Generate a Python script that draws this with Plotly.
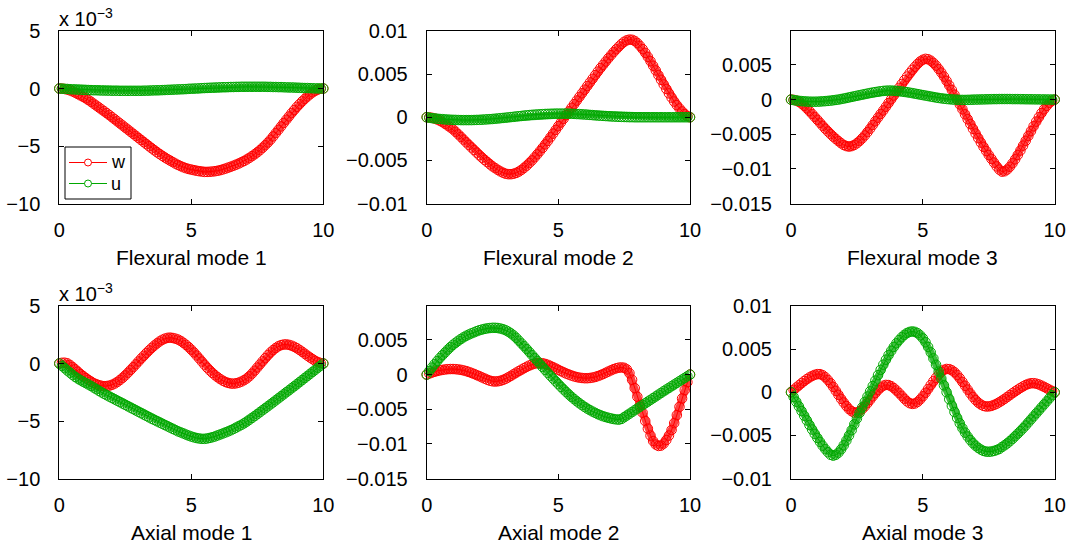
import plotly.graph_objects as go

# sampling positions along the beam (x from 0 to 10, step 0.1)
x_positions = [round(i * 0.1, 1) for i in range(101)]

# ---- Flexural mode 1 (values in units of 1e-3) ----
flex1_w = [0,
    -0.01, -0.04, -0.09, -0.16, -0.25,  -0.36, -0.48, -0.6, -0.72, -0.85,
    -1.0, -1.15, -1.32, -1.48, -1.65,   -1.82, -1.98, -2.15, -2.32, -2.5,
    -2.68, -2.86, -3.04, -3.22, -3.4,   -3.58, -3.76, -3.94, -4.12, -4.3,
    -4.48, -4.66, -4.84, -5.02, -5.2,   -5.37, -5.54, -5.7, -5.85, -6.0,
    -6.14, -6.27, -6.4, -6.53, -6.65,   -6.75, -6.85, -6.93, -7.0, -7.05,
    -7.1, -7.15, -7.19, -7.22, -7.25,   -7.25, -7.24, -7.22, -7.19, -7.15,
    -7.1, -7.03, -6.96, -6.88, -6.8,    -6.71, -6.62, -6.52, -6.41, -6.3,
    -6.17, -6.03, -5.88, -5.72, -5.55,  -5.36, -5.15, -4.93, -4.7, -4.45,
    -4.17, -3.88, -3.59, -3.3, -3.0,    -2.71, -2.43, -2.14, -1.87, -1.6,
    -1.36, -1.12, -0.9, -0.69, -0.5,    -0.33, -0.19, -0.09, -0.02, 0]
flex1_u = [0,
    -0.01, -0.03, -0.04, -0.06, -0.07,  -0.08, -0.09, -0.1, -0.11, -0.12,
    -0.13, -0.14, -0.15, -0.15, -0.16,  -0.17, -0.17, -0.18, -0.18, -0.19,
    -0.19, -0.19, -0.2, -0.2, -0.2,     -0.2, -0.2, -0.2, -0.2, -0.2,
    -0.2, -0.19, -0.19, -0.18, -0.17,   -0.16, -0.16, -0.15, -0.14, -0.13,
    -0.12, -0.11, -0.1, -0.09, -0.08,   -0.07, -0.06, -0.05, -0.03, -0.02,
    -0.01, 0.0, 0.01, 0.03, 0.04,       0.05, 0.06, 0.07, 0.08, 0.09,
    0.1, 0.11, 0.11, 0.12, 0.13,        0.13, 0.14, 0.14, 0.15, 0.15,
    0.15, 0.15, 0.15, 0.15, 0.15,       0.15, 0.15, 0.15, 0.14, 0.14,
    0.13, 0.13, 0.12, 0.12, 0.11,       0.1, 0.09, 0.09, 0.08, 0.07,
    0.06, 0.05, 0.04, 0.04, 0.03,       0.02, 0.01, 0.01, 0.0, 0]

# ---- Flexural mode 2 (units of 1e-3) ----
flex2_w = [0,
    -0.02, -0.07, -0.15, -0.26, -0.4,   -0.57, -0.76, -0.97, -1.18, -1.4,
    -1.69, -1.98, -2.28, -2.59, -2.9,   -3.2, -3.5, -3.8, -4.1, -4.4,
    -4.68, -4.95, -5.2, -5.45, -5.7,    -5.9, -6.1, -6.28, -6.43, -6.55,
    -6.6, -6.6, -6.55, -6.45, -6.3,     -6.1, -5.86, -5.6, -5.3, -5.0,
    -4.65, -4.3, -3.93, -3.55, -3.15,   -2.75, -2.33, -1.9, -1.47, -1.03,
    -0.6, -0.17, 0.25, 0.68, 1.1,       1.52, 1.94, 2.36, 2.78, 3.2,
    3.62, 4.04, 4.46, 4.88, 5.3,        5.7, 6.08, 6.46, 6.84, 7.2,
    7.55, 7.88, 8.2, 8.5, 8.75,         8.92, 9.0, 8.98, 8.85, 8.6,
    8.27, 7.9, 7.47, 7.0, 6.5,          5.97, 5.43, 4.88, 4.34, 3.8,
    3.28, 2.77, 2.28, 1.82, 1.4,        1.02, 0.68, 0.38, 0.14, 0]
flex2_u = [0,
    -0.05, -0.1, -0.14, -0.17, -0.2,    -0.22, -0.25, -0.27, -0.29, -0.3,
    -0.31, -0.32, -0.33, -0.33, -0.33,  -0.33, -0.33, -0.32, -0.31, -0.3,
    -0.28, -0.26, -0.24, -0.22, -0.2,   -0.17, -0.14, -0.11, -0.08, -0.05,
    -0.02, 0.02, 0.05, 0.09, 0.12,      0.15, 0.19, 0.22, 0.25, 0.28,
    0.3, 0.32, 0.34, 0.36, 0.38,        0.39, 0.4, 0.41, 0.42, 0.42,
    0.42, 0.42, 0.42, 0.41, 0.4,        0.39, 0.37, 0.36, 0.34, 0.32,
    0.3, 0.27, 0.25, 0.22, 0.2,         0.18, 0.16, 0.14, 0.12, 0.1,
    0.08, 0.07, 0.05, 0.04, 0.03,       0.02, 0.01, 0.01, 0.0, 0.0,
    0, 0, 0, 0, 0,                      0, 0, 0, 0, 0,
    0, 0, 0, 0, 0,                      0, 0, 0, 0, 0]

# ---- Flexural mode 3 (units of 1e-3) ----
flex3_w = [0,
    -0.04, -0.14, -0.32, -0.58, -0.9,   -1.27, -1.67, -2.08, -2.5, -2.92,
    -3.35, -3.78, -4.2, -4.6, -4.98,    -5.34, -5.68, -6.0, -6.3, -6.55,
    -6.72, -6.78, -6.72, -6.55, -6.3,   -5.98, -5.6, -5.17, -4.7, -4.2,
    -3.67, -3.13, -2.6, -2.08, -1.57,   -1.03, -0.5, 0.05, 0.6, 1.15,
    1.7, 2.25, 2.8, 3.32, 3.82,         4.3, 4.74, 5.15, 5.5, 5.75,
    5.88, 5.82, 5.62, 5.3, 4.9,         4.42, 3.9, 3.32, 2.7, 2.05,
    1.38, 0.7, 0.0, -0.7, -1.4,         -2.12, -2.83, -3.53, -4.22, -4.9,
    -5.56, -6.2, -6.82, -7.42, -8.0,    -8.55, -9.1, -9.65, -10.1, -10.4,
    -10.35, -10.1, -9.7, -9.2, -8.62,   -8.0, -7.35, -6.65, -5.95, -5.25,
    -4.55, -3.85, -3.18, -2.55, -1.95,  -1.4, -0.9, -0.48, -0.17, 0]
flex3_u = [0,
    -0.07, -0.13, -0.18, -0.22, -0.25,  -0.28, -0.3, -0.31, -0.31, -0.3,
    -0.28, -0.25, -0.22, -0.19, -0.15,  -0.1, -0.05, 0.0, 0.08, 0.15,
    0.23, 0.31, 0.39, 0.47, 0.55,       0.63, 0.71, 0.79, 0.87, 0.95,
    1.02, 1.08, 1.14, 1.2, 1.25,        1.28, 1.3, 1.3, 1.28, 1.25,
    1.21, 1.16, 1.11, 1.06, 1.0,        0.93, 0.86, 0.79, 0.72, 0.65,
    0.58, 0.51, 0.44, 0.37, 0.3,        0.24, 0.18, 0.13, 0.09, 0.05,
    0.02, 0.0, -0.02, -0.04, -0.05,     -0.05, -0.04, -0.03, -0.01, 0.0,
    0.01, 0.02, 0.03, 0.04, 0.05,       0.06, 0.07, 0.07, 0.08, 0.08,
    0.08, 0.08, 0.08, 0.07, 0.07,       0.07, 0.06, 0.06, 0.05, 0.05,
    0.04, 0.04, 0.03, 0.03, 0.02,       0.02, 0.01, 0.01, 0.0, 0]

# ---- Axial mode 1 (units of 1e-3) ----
axial1_w = [0,
    0.06, 0.07, 0.02, -0.12, -0.3,      -0.5, -0.71, -0.92, -1.1, -1.27,
    -1.43, -1.57, -1.7, -1.8, -1.88,    -1.94, -1.97, -1.96, -1.92, -1.85,
    -1.74, -1.6, -1.43, -1.24, -1.03,   -0.8, -0.56, -0.32, -0.07, 0.18,
    0.43, 0.67, 0.91, 1.14, 1.36,       1.56, 1.75, 1.92, 2.06, 2.16,
    2.23, 2.25, 2.22, 2.16, 2.08,       1.96, 1.8, 1.62, 1.42, 1.2,
    0.96, 0.7, 0.44, 0.17, -0.1,        -0.36, -0.6, -0.82, -1.02, -1.2,
    -1.36, -1.5, -1.61, -1.69, -1.74,   -1.75, -1.72, -1.66, -1.57, -1.45,
    -1.3, -1.11, -0.88, -0.62, -0.35,   -0.08, 0.19, 0.46, 0.72, 0.96,
    1.17, 1.35, 1.5, 1.6, 1.65,         1.66, 1.62, 1.55, 1.45, 1.33,
    1.18, 1.02, 0.85, 0.68, 0.52,       0.37, 0.23, 0.12, 0.04, 0]
axial1_u = [0,
    -0.2, -0.4, -0.6, -0.79, -0.98,     -1.16, -1.31, -1.45, -1.58, -1.7,
    -1.82, -1.95, -2.09, -2.23, -2.37,  -2.51, -2.64, -2.76, -2.88, -3.0,
    -3.12, -3.24, -3.36, -3.48, -3.6,   -3.72, -3.84, -3.96, -4.08, -4.2,
    -4.32, -4.44, -4.56, -4.68, -4.8,   -4.91, -5.02, -5.13, -5.24, -5.35,
    -5.46, -5.57, -5.68, -5.79, -5.9,   -5.99, -6.08, -6.18, -6.27, -6.35,
    -6.42, -6.48, -6.52, -6.55, -6.55,  -6.52, -6.47, -6.41, -6.34, -6.25,
    -6.17, -6.08, -5.99, -5.9, -5.8,    -5.69, -5.57, -5.45, -5.33, -5.2,
    -5.05, -4.89, -4.73, -4.57, -4.4,   -4.23, -4.06, -3.89, -3.72, -3.55,
    -3.38, -3.2, -3.03, -2.85, -2.68,   -2.5, -2.33, -2.15, -1.98, -1.8,
    -1.62, -1.44, -1.26, -1.08, -0.9,   -0.72, -0.54, -0.36, -0.18, 0]

# ---- Axial mode 2 (units of 1e-3) ----
axial2_w = [0,
    0.15, 0.29, 0.41, 0.52, 0.61,       0.68, 0.74, 0.78, 0.8, 0.8,
    0.78, 0.74, 0.68, 0.6, 0.5,         0.38, 0.24, 0.09, -0.07, -0.23,
    -0.4, -0.57, -0.74, -0.88, -0.97,   -1.0, -0.97, -0.89, -0.77, -0.6,
    -0.4, -0.18, 0.05, 0.28, 0.5,       0.72, 0.93, 1.13, 1.31, 1.46,
    1.58, 1.65, 1.67, 1.63, 1.54,       1.41, 1.25, 1.07, 0.88, 0.69,
    0.5, 0.32, 0.15, 0.0, -0.14,        -0.26, -0.36, -0.44, -0.49, -0.52,
    -0.52, -0.49, -0.43, -0.34, -0.22,  -0.08, 0.08, 0.26, 0.44, 0.62,
    0.78, 0.91, 1.0, 1.03, 0.98,        0.75, 0.2, -0.75, -1.95, -3.2,
    -4.4, -5.5, -6.7, -7.8, -8.8,       -9.6, -10.1, -10.3, -10.25, -9.95,
    -9.45, -8.8, -8.0, -7.0, -5.85,     -4.65, -3.45, -2.25, -1.1, 0]
axial2_u = [0,
    0.52, 1.02, 1.5, 1.96, 2.4,         2.81, 3.2, 3.6, 3.96, 4.3,
    4.6, 4.88, 5.14, 5.38, 5.6,         5.78, 5.95, 6.1, 6.26, 6.4,
    6.5, 6.6, 6.67, 6.72, 6.75,         6.75, 6.72, 6.65, 6.55, 6.4,
    6.2, 5.95, 5.65, 5.3, 4.9,          4.5, 4.1, 3.68, 3.25, 2.82,
    2.4, 1.97, 1.53, 1.1, 0.67,         0.25, -0.16, -0.57, -0.98, -1.38,
    -1.77, -2.15, -2.52, -2.88, -3.22,  -3.54, -3.85, -4.14, -4.41, -4.67,
    -4.91, -5.13, -5.34, -5.53, -5.71,  -5.87, -6.01, -6.13, -6.24, -6.33,
    -6.41, -6.47, -6.5, -6.4, -6.15,    -5.9, -5.65, -5.4, -5.15, -4.9,
    -4.65, -4.4, -4.15, -3.9, -3.65,    -3.4, -3.15, -2.9, -2.65, -2.4,
    -2.16, -1.92, -1.68, -1.44, -1.2,   -0.96, -0.72, -0.48, -0.24, 0]

# ---- Axial mode 3 (units of 1e-3) ----
axial3_w = [0,
    0.27, 0.54, 0.8, 1.05, 1.3,         1.52, 1.72, 1.89, 2.02, 2.1,
    2.1, 1.98, 1.74, 1.42, 1.05,        0.62, 0.16, -0.3, -0.77, -1.2,
    -1.6, -1.95, -2.2, -2.35, -2.35,    -2.2, -1.95, -1.63, -1.27, -0.88,
    -0.48, -0.1, 0.25, 0.55, 0.76,      0.85, 0.83, 0.7, 0.48, 0.2,
    -0.1, -0.42, -0.75, -1.05, -1.27,   -1.35, -1.3, -1.12, -0.83, -0.47,
    -0.06, 0.38, 0.83, 1.27, 1.68,      2.05, 2.37, 2.6, 2.7, 2.68,
    2.55, 2.32, 2.0, 1.62, 1.2,         0.75, 0.3, -0.14, -0.55, -0.9,
    -1.2, -1.43, -1.58, -1.65, -1.64,   -1.58, -1.47, -1.33, -1.16, -0.97,
    -0.77, -0.55, -0.33, -0.11, 0.1,    0.3, 0.5, 0.68, 0.84, 0.97,
    1.04, 1.05, 1.0, 0.9, 0.77,         0.62, 0.46, 0.3, 0.15, 0]
axial3_u = [0,
    -0.55, -1.1, -1.64, -2.18, -2.72,   -3.26, -3.8, -4.32, -4.82, -5.3,
    -5.76, -6.2, -6.6, -6.95, -7.25,    -7.35, -7.25, -7.0, -6.62, -6.15,
    -5.6, -5.02, -4.4, -3.72, -3.05,    -2.4, -1.76, -1.12, -0.5, 0.1,
    0.72, 1.35, 1.98, 2.6, 3.2,         3.77, 4.3, 4.8, 5.26, 5.68,
    6.05, 6.38, 6.66, 6.87, 7.0,        7.05, 7.0, 6.85, 6.6, 6.25,
    5.8, 5.25, 4.62, 3.92, 3.18,        2.4, 1.6, 0.8, 0.0, -0.8,
    -1.57, -2.3, -2.98, -3.6, -4.17,    -4.68, -5.14, -5.55, -5.9, -6.2,
    -6.45, -6.65, -6.8, -6.88, -6.9,    -6.87, -6.8, -6.7, -6.57, -6.35,
    -6.15, -5.93, -5.67, -5.4, -5.1,    -4.8, -4.5, -4.18, -3.85, -3.5,
    -3.15, -2.8, -2.45, -2.1, -1.75,    -1.4, -1.05, -0.7, -0.35, 0]

panel_titles = ["Flexural mode 1", "Flexural mode 2", "Flexural mode 3",
                "Axial mode 1", "Axial mode 2", "Axial mode 3"]
panel_w = [flex1_w, flex2_w, flex3_w, axial1_w, axial2_w, axial3_w]
panel_u = [flex1_u, flex2_u, flex3_u, axial1_u, axial2_u, axial3_u]
# panels 1 and 4 are drawn with a "x 10^-3" multiplier, the others in absolute units
panel_scale = [1.0, 1e-3, 1e-3, 1.0, 1e-3, 1e-3]
panel_yrange = [(-10, 5), (-0.01, 0.01), (-0.015, 0.0099),
                (-10, 5), (-0.015, 0.0099), (-0.01, 0.01)]
panel_yticks = [[-10, -5, 0, 5],
                [-0.01, -0.005, 0, 0.005, 0.01],
                [-0.015, -0.01, -0.005, 0, 0.005],
                [-10, -5, 0, 5],
                [-0.015, -0.01, -0.005, 0, 0.005],
                [-0.01, -0.005, 0, 0.005, 0.01]]
x_ticks = [0, 5, 10]
legend_names = ["w", "u"]

W, H = 1072, 551
FONT = "Liberation Sans, Arial, Helvetica, sans-serif"
FS_TICK = 20
FS_TITLE = 21
FS_LEGEND = 18
RED = "#ff0000"
GREEN = "#00a800"
BAND = {"w": "rgba(255,0,0,0.75)", "u": "rgba(0,168,0,0.75)"}

col_px = [(59.3, 323.3), (426.7, 690.0), (791.0, 1054.7)]
row_px = [(31.0, 203.5), (306.0, 478.5)]


def fmt(v):
    return ("%g" % v).replace("-", "\u2212")


def px(xp, yp):
    return xp / W, 1 - yp / H


fig = go.Figure()
layout = {}
annotations = []
shapes = []
for k in range(6):
    r, c = divmod(k, 3)
    sfx = "" if k == 0 else str(k + 1)
    xa, ya = "x" + sfx, "y" + sfx
    sc = panel_scale[k]
    wv = [v * sc for v in panel_w[k]]
    uv = [v * sc for v in panel_u[k]]
    for name, vals, col in (("w", wv, RED), ("u", uv, GREEN)):
        # dense band underneath the open circles (many overlapping markers)
        fig.add_trace(go.Scatter(
            x=x_positions, y=vals, mode="lines", showlegend=False, hoverinfo="skip",
            line=dict(color=BAND[name], width=7.5), xaxis=xa, yaxis=ya,
            cliponaxis=False))
        fig.add_trace(go.Scatter(
            x=x_positions, y=vals, name=name, mode="lines+markers",
            line=dict(color=col, width=1),
            marker=dict(symbol="circle-open", size=9.5, color=col,
                        line=dict(width=1, color=col)),
            xaxis=xa, yaxis=ya, showlegend=False, cliponaxis=False))
    x0, x1 = col_px[c]
    y0, y1 = row_px[r]
    common = dict(showline=True, linecolor="black", linewidth=1, mirror="allticks",
                  ticks="inside", ticklen=5, tickwidth=1, tickcolor="black",
                  showgrid=False, zeroline=False, automargin=False,
                  tickfont=dict(family=FONT, size=FS_TICK, color="black"))
    layout["xaxis" + sfx] = dict(common, domain=[x0 / W, x1 / W], anchor=ya,
                                 range=[0, 10], tickvals=x_ticks,
                                 ticktext=[fmt(t) for t in x_ticks],
                                 ticklabelstandoff=8)
    layout["yaxis" + sfx] = dict(common, domain=[1 - y1 / H, 1 - y0 / H], anchor=xa,
                                 range=list(panel_yrange[k]), tickvals=panel_yticks[k],
                                 ticktext=[fmt(t) for t in panel_yticks[k]],
                                 ticklabelstandoff=14)
    annotations.append(dict(text=panel_titles[k], xref="paper", yref="paper",
                            x=(x0 + x1) / 2 / W, y=1 - (y1 + 54) / H,
                            xanchor="center", yanchor="middle", showarrow=False,
                            font=dict(family=FONT, size=FS_TITLE, color="black")))
    if panel_scale[k] == 1.0:
        annotations.append(dict(text="x 10<sup>\u22123</sup>", xref="paper", yref="paper",
                                x=(x0 - 2) / W, y=1 - (y0 + 1) / H,
                                xanchor="left", yanchor="bottom", showarrow=False,
                                font=dict(family=FONT, size=FS_TICK, color="black")))

# legend box drawn inside the first panel (as in the reference)
lx0, ly0 = px(65, 147)
lx1, ly1 = px(131, 199)
shapes.append(dict(type="rect", xref="paper", yref="paper", x0=lx0, x1=lx1,
                   y0=ly1, y1=ly0, line=dict(color="black", width=1),
                   fillcolor="white", layer="above"))
for i, (name, col) in enumerate(zip(legend_names, (RED, GREEN))):
    yy = 162.5 + 21 * i
    a0, b0 = px(69, yy)
    a1, _ = px(107, yy)
    shapes.append(dict(type="line", xref="paper", yref="paper", x0=a0, x1=a1,
                       y0=b0, y1=b0, line=dict(color=col, width=1), layer="above"))
    c0, d0 = px(84.5, yy - 3.5)
    c1, d1 = px(91.5, yy + 3.5)
    shapes.append(dict(type="circle", xref="paper", yref="paper", x0=c0, x1=c1,
                       y0=d1, y1=d0, line=dict(color=col, width=1),
                       fillcolor="white", layer="above"))
    tx, ty = px(110, yy)
    annotations.append(dict(text=name, xref="paper", yref="paper", x=tx, y=ty,
                            xanchor="left", yanchor="middle", showarrow=False,
                            borderpad=0,
                            font=dict(family=FONT, size=FS_LEGEND, color="black")))

fig.update_layout(
    **layout,
    annotations=annotations,
    shapes=shapes,
    width=W, height=H,
    margin=dict(l=0, r=0, t=0, b=0, pad=0, autoexpand=False),
    paper_bgcolor="white", plot_bgcolor="white",
    font=dict(family=FONT, size=FS_TICK, color="black"),
    showlegend=False,
)

for arr in panel_w + panel_u:
    assert len(arr) == 101

fig.write_html("out.html",
               config={"displayModeBar": False},
               post_script="document.body.style.margin='0px';"
                           "document.body.style.overflow='hidden';")
